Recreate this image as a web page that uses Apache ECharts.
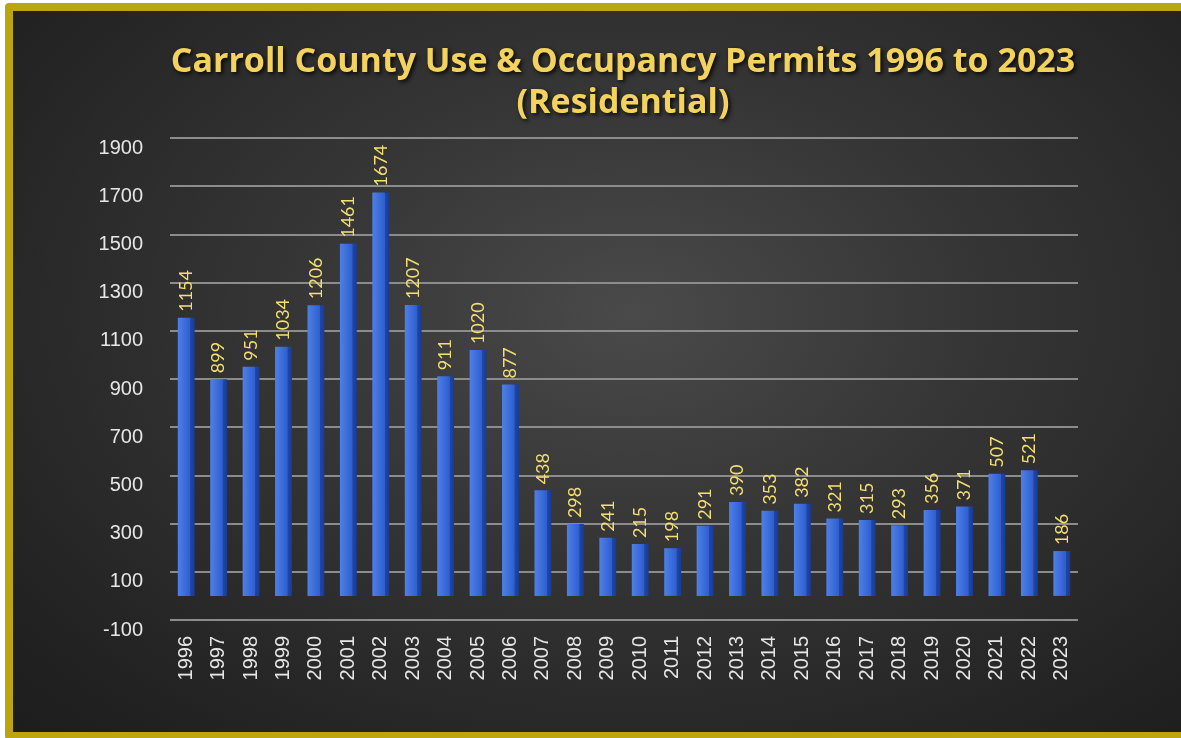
<!DOCTYPE html>
<html>
<head>
<meta charset="utf-8">
<title>Carroll County Use & Occupancy Permits</title>
<script src="https://cdn.jsdelivr.net/npm/echarts@6/dist/echarts.min.js"></script>
<style>
  html, body { margin: 0; padding: 0; background: #fff; }
  #frame {
    position: absolute; left: 5px; top: 3px; width: 1186px; height: 737px;
    box-sizing: border-box; border: 8px solid #bca50e; border-radius: 4px;
    background: radial-gradient(ellipse at 53% 42%, #4a4a4a 0%, #353535 40%, #222 85%, #1d1d1d 100%);
  }
  #main { position: absolute; left: 0; top: 0; width: 1181px; height: 738px; }
</style>
</head>
<body>
<div id="frame"></div>
<div id="main"></div>
<script>
  // years on the x axis
  const years = ['1996','1997','1998','1999','2000','2001','2002','2003','2004','2005',
    '2006','2007','2008','2009','2010','2011','2012','2013','2014','2015',
    '2016','2017','2018','2019','2020','2021','2022','2023'];
  // residential permits per year
  const permits = [1154, 899, 951, 1034, 1206, 1461, 1674, 1207, 911, 1020,
    877, 438, 298, 241, 215, 198, 291, 390, 353, 382,
    321, 315, 293, 356, 371, 507, 521, 186];

  const chart = echarts.init(document.getElementById('main'));

  const titleStyle = {
    fontFamily: 'Open Sans',
    fontWeight: 'bold',
    fontSize: 34,
    fill: '#f3d25e',
    align: 'center',
    verticalAlign: 'middle',
    textShadowColor: 'rgba(0,0,0,0.85)',
    textShadowBlur: 4,
    textShadowOffsetX: 2,
    textShadowOffsetY: 2
  };

  const option = {
    backgroundColor: 'transparent',
    graphic: [
      { type: 'text', x: 623, y: 62, style: Object.assign({ text: 'Carroll County Use & Occupancy Permits 1996 to 2023' }, titleStyle) },
      { type: 'text', x: 623, y: 103, style: Object.assign({ text: '(Residential)' }, titleStyle) }
    ],
    grid: { left: 170, right: 103, top: 138, bottom: 118 },
    xAxis: {
      type: 'category',
      data: years,
      axisLine: { show: false },
      axisTick: { show: false },
      axisLabel: {
        rotate: 90,
        margin: 16,
        color: '#e6e6e6',
        fontFamily: 'Liberation Sans',
        fontSize: 20
      }
    },
    yAxis: {
      type: 'value',
      min: -100,
      max: 1900,
      interval: 200,
      axisLine: { show: false },
      axisTick: { show: false },
      axisLabel: {
        margin: 27,
        verticalAlign: 'top',
        color: '#e6e6e6',
        fontFamily: 'Liberation Sans',
        fontSize: 20,
        formatter: v => String(v)
      },
      splitLine: { lineStyle: { color: '#8c8c8c', width: 2 } }
    },
    series: [{
      type: 'bar',
      data: permits,
      barWidth: '52%',
      itemStyle: {
        color: {
          type: 'linear', x: 0, y: 0, x2: 1, y2: 0,
          colorStops: [
            { offset: 0, color: '#4f80e6' },
            { offset: 0.72, color: '#2f5fd0' },
            { offset: 0.76, color: '#1f46a8' },
            { offset: 1, color: '#1a3b90' }
          ]
        }
      },
      label: {
        show: true,
        position: 'top',
        rotate: 90,
        align: 'left',
        verticalAlign: 'middle',
        distance: 6,
        color: '#f5df72',
        fontFamily: 'Lato',
        fontSize: 18
      }
    }]
  };

  chart.setOption(option);
</script>
</body>
</html>
